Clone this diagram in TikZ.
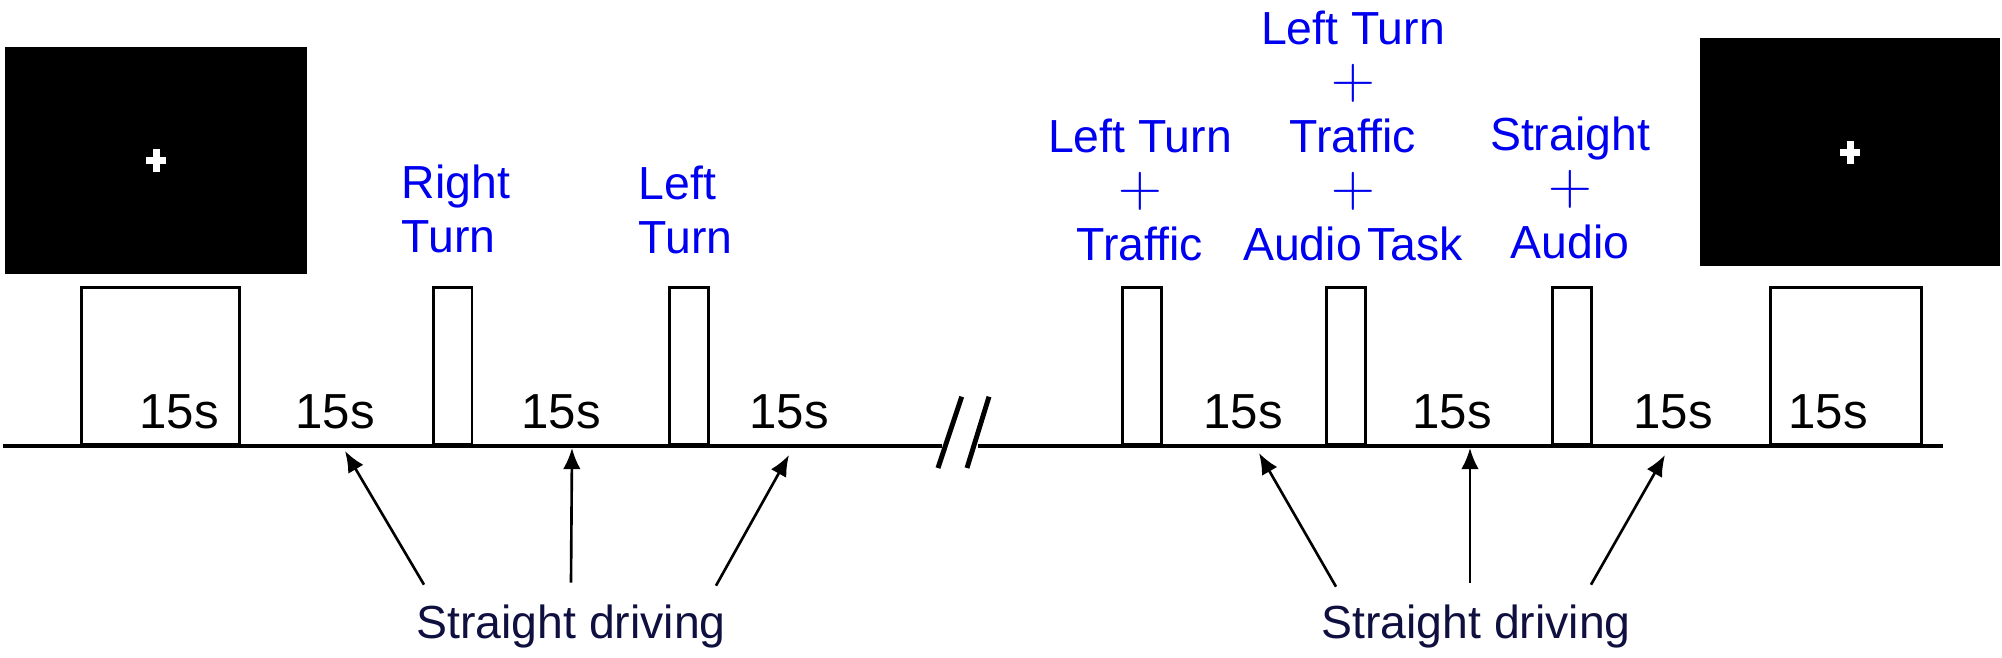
\documentclass[tikz,border=0pt]{standalone}
\usepackage{fontspec}
\setmainfont{Liberation Sans}
\usetikzlibrary{arrows.meta}
\definecolor{cueblue}{RGB}{0,0,240}
\definecolor{drivenavy}{RGB}{16,16,64}

\begin{document}
\begin{tikzpicture}[
        screen/.style={fill=black, inner sep=0pt, minimum width=3cm, minimum height=2.27cm,
            path picture={
                \fill[white] (path picture bounding box.center) ++(-0.1,-0.035) rectangle ++(0.2,0.07);
                \fill[white] (path picture bounding box.center) ++(-0.035,-0.115) rectangle ++(0.07,0.23);
            }},
        pulse/.style={draw, line width=0.75pt, inner sep=0pt, minimum height=1.57cm, anchor=south west},
        dur/.style={anchor=base, inner sep=0pt, font=\fontsize{14}{16}\selectfont},
        cue/.style={inner sep=0pt, text=cueblue, font=\fontsize{13.2}{15.4}\selectfont},
        driving/.style={anchor=base, inner sep=0pt, text=drivenavy, font=\fontsize{13.2}{15.4}\selectfont},
        axis/.style={line width=0.9pt},
        pointer/.style={-{Latex[length=6pt,width=5pt]}, line width=0.75pt}
    ]
        \useasboundingbox (0,0) rectangle (20.02,6.57);
        % Pantallas de fijacion
        \node[screen, minimum width=3.02cm] (scrL) at (1.56,4.965) {};
        \node[screen, minimum height=2.28cm] (scrR) at (18.50,5.05) {};
        % Linea de tiempo con corte
        \coordinate (t0) at (0.03,2.11);
        \coordinate (brkL) at (9.42,2.11);
        \coordinate (brkR) at (9.78,2.11);
        \coordinate (t1) at (19.43,2.11);
        \draw[axis] (t0) -- (brkL);
        \draw[axis] (brkR) -- (t1);
        \draw[line width=1.4pt] (9.617,2.603) -- (9.38,1.89);
        \draw[line width=1.4pt] (9.89,2.603) -- (9.67,1.89);
        % Pulsos
        \node[pulse, minimum width=1.58cm] (fix1) at (0.80,2.11) {};
        \node[pulse, minimum width=0.385cm] (rturn) at (4.32,2.11) {};
        \node[pulse, minimum width=0.39cm] (lturn) at (6.68,2.11) {};
        \node[pulse, minimum width=0.39cm] (ltraf) at (11.21,2.11) {};
        \node[pulse, minimum width=0.39cm] (ltaud) at (13.25,2.11) {};
        \node[pulse, minimum width=0.39cm] (saud) at (15.51,2.11) {};
        \node[pulse, minimum width=1.51cm] (fix2) at (17.69,2.11) {};
        % Duraciones
        \node[dur] (d1) at (1.79,2.29) {15s};
        \node[dur] (d2) at (3.35,2.29) {15s};
        \node[dur] (d3) at (5.61,2.29) {15s};
        \node[dur] (d4) at (7.89,2.29) {15s};
        \node[dur] (d5) at (12.43,2.29) {15s};
        \node[dur] (d6) at (14.52,2.29) {15s};
        \node[dur] (d7) at (16.73,2.29) {15s};
        \node[dur] (d8) at (18.28,2.29) {15s};
        % Etiquetas de condicion
        \node[cue, anchor=south west, align=left] (cRT) at (4.01,4.03) {Right\\Turn};
        \node[cue, anchor=south west, align=left] (cLT) at (6.38,4.02) {Left\\Turn};
        \node[cue, anchor=south, align=center] (cLTT) at (11.40,3.95) {Left Turn\\{\fontsize{17}{15}\selectfont$+$}\\Traffic};
        \node[cue, anchor=south, align=center] (cLTTA) at (13.53,3.95) {Left Turn\\{\fontsize{17}{15}\selectfont$+$}\\Traffic\\{\fontsize{17}{15}\selectfont$+$}\\Audio\kern0.12em Task};
        \node[cue, anchor=south, align=center] (cSA) at (15.70,3.97) {Straight\\{\fontsize{17}{15}\selectfont$+$}\\Audio};
        % Conduccion recta
        \node[driving] (drvA) at (5.71,0.19) {Straight driving};
        \node[driving] (drvB) at (14.76,0.19) {Straight driving};
        \coordinate (gA1) at (3.45,2.06);
        \coordinate (gA2) at (5.72,2.09);
        \coordinate (gA3) at (7.89,2.02);
        \coordinate (gB1) at (12.59,2.04);
        \coordinate (gB2) at (14.70,2.09);
        \coordinate (gB3) at (16.65,2.02);
        \draw[pointer] ([shift={(-1.47,0.19)}]drvA.north) -- (gA1);
        \draw[pointer] ([shift={(0,0.21)}]drvA.north) -- (gA2);
        \draw[pointer] ([shift={(1.45,0.18)}]drvA.north) -- (gA3);
        \draw[pointer] ([shift={(-1.40,0.17)}]drvB.north) -- (gB1);
        \draw[pointer] ([shift={(-0.06,0.21)}]drvB.north) -- (gB2);
        \draw[pointer] ([shift={(1.15,0.19)}]drvB.north) -- (gB3);
    \end{tikzpicture}
\end{document}
